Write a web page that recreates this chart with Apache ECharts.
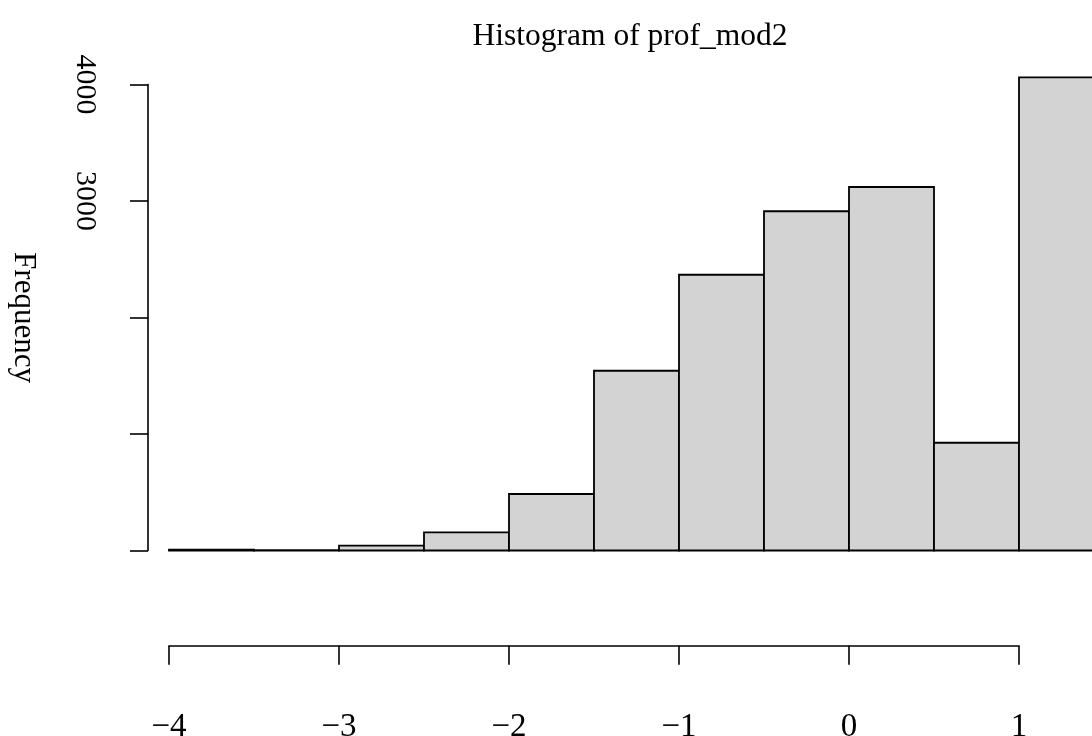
<!DOCTYPE html>
<html>
<head>
<meta charset="utf-8">
<script src="https://cdn.jsdelivr.net/npm/echarts@6/dist/echarts.min.js"></script>
<style>
  html, body { margin: 0; padding: 0; background: #fff; }
  #chart { width: 1092px; height: 736px; }
</style>
</head>
<body>
<div id="chart"></div>
<script>
// Histogram bins (left edge, right edge) and counts
const binStarts = [-4, -3.5, -3, -2.5, -2, -1.5, -1, -0.5, 0, 0.5, 1];
const binEnds   = [-3.5, -3, -2.5, -2, -1.5, -1, -0.5, 0, 0.5, 1, 1.5];
const counts    = [8, 3, 41, 156, 485, 1543, 2367, 2912, 3120, 925, 4062];

// Axis ticks
const xTicks = [-4, -3, -2, -1, 0, 1];
const yTicks = [0, 1000, 2000, 3000, 4000];
const yLabelled = [3000, 4000];

const FONT = '"Liberation Serif", "Times New Roman", serif';

const binData = binStarts.map((s, i) => [s, binEnds[i], counts[i]]);

const chart = echarts.init(document.getElementById('chart'), null, { renderer: 'canvas' });

chart.setOption({
  animation: false,
  backgroundColor: '#ffffff',
  title: {
    text: 'Histogram of prof_mod2',
    left: 625,
    textAlign: 'center',
    top: 16,
    textStyle: { fontFamily: FONT, fontWeight: 'normal', fontSize: 31.5, color: '#000' }
  },
  grid: { left: 169, top: 84.5, width: 850, height: 466, outerBoundsMode: 'none', containLabel: false },
  xAxis: {
    type: 'value',
    min: xTicks[0],
    max: xTicks[xTicks.length - 1],
    interval: 1,
    offset: 95.2,
    splitLine: { show: false },
    axisLine: { show: true, onZero: false, lineStyle: { color: '#000', width: 1.6 } },
    axisTick: { show: true, length: 19, lineStyle: { color: '#000', width: 1.6 } },
    axisLabel: {
      margin: 65,
      fontFamily: FONT, fontSize: 33, color: '#000',
      formatter: v => (v < 0 ? '\u2212' + Math.abs(v) : String(v))
    }
  },
  yAxis: {
    type: 'value',
    min: yTicks[0],
    max: yTicks[yTicks.length - 1],
    interval: 1000,
    offset: 21,
    name: 'Frequency',
    nameLocation: 'middle',
    nameRotate: -90,
    nameGap: 109,
    nameTextStyle: { fontFamily: FONT, fontSize: 31, color: '#000' },
    splitLine: { show: false },
    axisLine: { show: true, onZero: false, lineStyle: { color: '#000', width: 1.6 } },
    axisTick: { show: true, length: 18, lineStyle: { color: '#000', width: 1.6 } },
    axisLabel: {
      rotate: -90,
      margin: 48,
      fontFamily: FONT, fontSize: 30, color: '#000',
      formatter: v => (yLabelled.indexOf(v) >= 0 ? String(v) : '')
    }
  },
  series: [{
    type: 'custom',
    clip: false,
    data: binData,
    encode: { x: [0, 1], y: 2 },
    renderItem: (params, api) => {
      const p0 = api.coord([api.value(0), 0]);
      const p1 = api.coord([api.value(1), api.value(2)]);
      return {
        type: 'rect',
        shape: { x: p0[0], y: p1[1], width: p1[0] - p0[0], height: p0[1] - p1[1] },
        style: { fill: '#d3d3d3', stroke: '#000', lineWidth: 1.8 }
      };
    }
  }]
});
</script>
</body>
</html>
